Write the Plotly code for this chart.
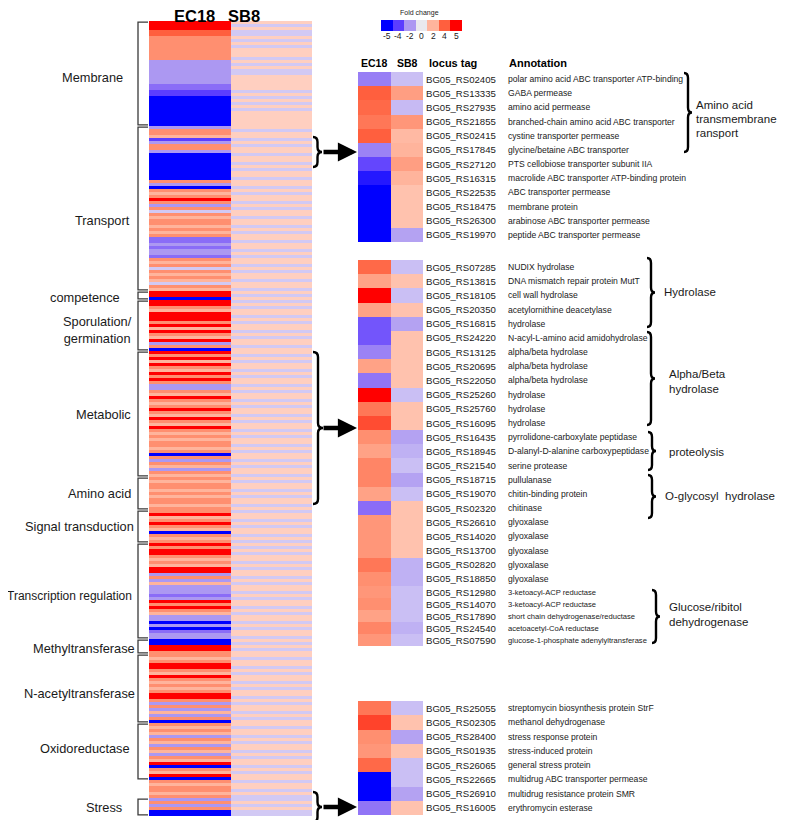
import plotly.graph_objects as go

# the page is shown with an 8 px body margin, so the figure is drawn 8 px smaller
# and every layout position below is given in screen pixels of the 787x820 window
OFF = 8
W, H = 787 - OFF, 820 - OFF

# ---------------- colour levels ----------------
level_vals = [-5, -4, -3, -2, -1, 0, 1, 2, 3, 4, 5]
level_cols = ['#0000ff', '#5b3dff', '#8a6cf7', '#ac98f2', '#d2c9f4', '#e9e9ee',
              '#ffcfc0', '#ffb49c', '#ff8f70', '#ff5f3e', '#ff0000']
legend_vals = [-5, -4, -2, 0, 2, 4, 5]
legend_text = ['-5', '-4', '-2', '0', '2', '4', '5']

# ---------------- left overview heatmap (rows per functional group) -------------
group_names = ['Membrane', 'Transport', 'competence', 'Sporulation/<br>germination', 'Metabolic',
               'Amino acid', 'Signal transduction', 'Transcription regulation', 'Methyltransferase',
               'N-acetyltransferase', 'Oxidoreductase', '', 'Stress']

membrane_ec18 = [5, 5, 5, 4, 4, 3, 3, 3, 3, 3, 3, 3, 3, -2, -2, -2, -2, -2, -2, -2, -2, -3, -3, -4, -4,
                 -5, -5, -5, -5, -5, -5, -5, -5, -5, -5]
membrane_sb8 = [1, -1, 1, -1, -1, 1, -1, 1, -1, 1, 1, 1, -1, 1, -1, 1, -1, -1, 1, 1, 1, 1, 1, -1, 1,
                -1, 1, -1, 1, -1, 1, 1, 1, 1, 1]
transport_ec18 = [-2, 3, 3, 2, -4, -2, 3, 3, -2, -5, -5, -5, -5, -5, -5, -5, -5, -5, 3, -2, -5, 3, 2,
                  3, 5, 3, -2, 3, -1, 3, 2, 3, 3, 2, 3, 2, 3, -3, -3, -2, -3, -2, -2, -3, 3, 2, 3, -1,
                  3, 2, 3, 2, -1, 3, 2]
transport_sb8 = [1, -1, 1, 1, -1, 1, -1, 1, 1, -1, 1, 1, -1, 1, -1, 1, 1, -1, 1, 1, -1, 1, -1, 1, 1,
                 -1, 1, -1, 1, 1, -1, 1, 1, -1, 1, -1, 1, 1, -1, 1, 1, -1, 1, -1, 1, 1, -1, 1, -1, 1,
                 1, -1, 1, 1, -1]
competence_ec18 = [5, 5, -5]
competence_sb8 = [1, -1, 1]
sporulation_ec18 = [5, 5, 3, 2, 5, 5, 5, 3, 5, 2, 5, 3, 2, 5, -2, 3, -5]
sporulation_sb8 = [-1, 1, -1, 1, 1, -1, 1, -1, 1, 1, -1, 1, -1, 1, 1, -1, 1]
metabolic_ec18 = [5, 3, 5, 2, 5, 3, 2, 5, 3, 5, 3, -2, -2, 3, 2, 5, 3, 2, 3, 5, 3, 2, 5, 3, 2, 5, 3,
                  2, 3, 2, 3, 3, 2, 3, -5, 3, -2, 3, 2, -2, 3, 2]
metabolic_sb8 = [1, -1, 1, -1, 1, 1, -1, 1, -1, 1, 1, -1, 1, -1, 1, 1, -1, 1, -1, 1, 1, -1, 1, -1, 1,
                 1, -1, 1, -1, 1, 1, -1, 1, -1, 1, 1, -1, 1, -1, 1, 1, -1]
amino_ec18 = [3, 2, 3, 3, 2, 3, 2, 3, 3, 2, 3]
amino_sb8 = [1, -1, 1, 1, -1, 1, -1, 1, 1, -1, 1]
signal_ec18 = [3, 5, 2, 3, 5, 3, 2, -5, 3, 2, 3]
signal_sb8 = [-1, 1, 1, -1, 1, -1, 1, 1, -1, 1, -1]
transcription_ec18 = [5, 3, 5, 5, 3, 2, 3, 2, 5, 5, -2, 3, -2, 2, -2, -2, -2, -3, -2, 5, 3, 5, 3, 2,
                      -2, -2, -5, -2, -5, -3, -2, -2]
transcription_sb8 = [1, -1, 1, -1, 1, 1, -1, 1, -1, 1, 1, -1, 1, -1, 1, 1, -1, 1, -1, 1, 1, -1, 1, -1,
                     1, 1, -1, 1, -1, 1, 1, -1]
methyl_ec18 = [-5, -5, 5, 5, 3]
methyl_sb8 = [1, -1, 1, -1, 1]
nacetyl_ec18 = [3, 2, 3, 5, 5, 3, 2, 5, 3, 2, 3, 2, 3, 5, 5, 3, -2, 3, -2, 2, -2, 3, -5]
nacetyl_sb8 = [1, -1, 1, 1, -1, 1, -1, 1, 1, -1, 1, -1, 1, 1, -1, 1, -1, 1, 1, -1, 1, -1, 1]
oxido_ec18 = [3, 2, 3, 2, -2, 3, 2, -2, 3, 2, -2, 3, 2, 5, -5, 3, 2, 5, -5]
oxido_sb8 = [1, -1, 1, 1, -1, 1, -1, 1, 1, -1, 1, -1, 1, 1, -1, 1, -1, 1, 1]
other_ec18 = [3, 2, 3, 3, 2, 3]
other_sb8 = [-1, 1, 1, -1, 1, -1]
stress_ec18 = [-2, 3, -2, 3, -5, -5]
stress_sb8 = [-1, 1, -1, 1, -1, -1]

groups_ec18 = [membrane_ec18, transport_ec18, competence_ec18, sporulation_ec18, metabolic_ec18,
               amino_ec18, signal_ec18, transcription_ec18, methyl_ec18, nacetyl_ec18, oxido_ec18,
               other_ec18, stress_ec18]
groups_sb8 = [membrane_sb8, transport_sb8, competence_sb8, sporulation_sb8, metabolic_sb8, amino_sb8,
              signal_sb8, transcription_sb8, methyl_sb8, nacetyl_sb8, oxido_sb8, other_sb8, stress_sb8]

# ---------------- right detail panels ----------------
p1_locus = ['BG05_RS02405', 'BG05_RS13335', 'BG05_RS27935', 'BG05_RS21855', 'BG05_RS02415',
            'BG05_RS17845', 'BG05_RS27120', 'BG05_RS16315', 'BG05_RS22535', 'BG05_RS18475',
            'BG05_RS26300', 'BG05_RS19970']
p1_annot = ['polar amino acid ABC transporter ATP-binding', 'GABA permease', 'amino acid permease',
            'branched-chain amino acid ABC transporter', 'cystine transporter permease',
            'glycine/betaine ABC transporter', 'PTS cellobiose transporter subunit IIA',
            'macrolide ABC transporter ATP-binding protein', 'ABC transporter permease',
            'membrane protein', 'arabinose ABC transporter permease', 'peptide ABC transporter permease']
p1_ec18 = [-2.6, 4, 3.8, 3.5, 4, -2.5, -3.8, -4.6, -5, -5, -5, -5]
p1_sb8 = [-1.2, 2.6, -1.3, 2.8, 1.8, 2, 2.6, 2, 1.5, 1.5, 1.5, -1.8]

p2_locus = ['BG05_RS07285', 'BG05_RS13815', 'BG05_RS18105', 'BG05_RS20350', 'BG05_RS16815',
            'BG05_RS24220', 'BG05_RS13125', 'BG05_RS20695', 'BG05_RS22050', 'BG05_RS25260',
            'BG05_RS25760', 'BG05_RS16095', 'BG05_RS16435', 'BG05_RS18945', 'BG05_RS21540',
            'BG05_RS18715', 'BG05_RS19070', 'BG05_RS02320', 'BG05_RS26610', 'BG05_RS14020',
            'BG05_RS13700', 'BG05_RS02820', 'BG05_RS18850', 'BG05_RS12980', 'BG05_RS14070',
            'BG05_RS17890', 'BG05_RS24540', 'BG05_RS07590']
p2_annot = ['NUDIX hydrolase', 'DNA mismatch repair protein MutT', 'cell wall hydrolase',
            'acetylornithine deacetylase', 'hydrolase', 'N-acyl-L-amino acid amidohydrolase',
            'alpha/beta hydrolase', 'alpha/beta hydrolase', 'alpha/beta hydrolase', 'hydrolase',
            'hydrolase', 'hydrolase', 'pyrrolidone-carboxylate peptidase',
            'D-alanyl-D-alanine carboxypeptidase', 'serine protease', 'pullulanase',
            'chitin-binding protein', 'chitinase', 'glyoxalase', 'glyoxalase', 'glyoxalase',
            'glyoxalase', 'glyoxalase', '3-ketoacyl-ACP reductase', '3-ketoacyl-ACP reductase',
            'short chain dehydrogenase/reductase', 'acetoacetyl-CoA reductase',
            'glucose-1-phosphate adenylyltransferase']
p2_ec18 = [3.8, 2.5, 5, 2.5, -3.5, -3.5, -2.5, 2.5, -2.8, 5, 3.5, 4.2, 3, 2.5, 3.2, 3.2, 2.5, -3,
           2.8, 2.8, 2.8, 3.5, 3, 2.8, 3, 2.5, 3.2, 2.8]
p2_sb8 = [-1.2, 1.5, -1.2, 1.5, -1.8, 1.5, 1.5, 1.5, 1.5, -1.2, 1.5, 1.5, -1.8, -1.5, -1.2, -1.8,
          -1.2, 1.5, 1.5, 1.5, 1.5, -1.5, -1.5, -1.2, -1.2, -1.2, -1.5, -1.2]

p3_locus = ['BG05_RS25055', 'BG05_RS02305', 'BG05_RS28400', 'BG05_RS01935', 'BG05_RS26065',
            'BG05_RS22665', 'BG05_RS26910', 'BG05_RS16005']
p3_annot = ['streptomycin biosynthesis protein StrF', 'methanol dehydrogenase', 'stress response protein',
            'stress-induced protein', 'general stress protein', 'multidrug ABC transporter permease',
            'multidrug resistance protein SMR', 'erythromycin esterase']
p3_ec18 = [3.5, 4.3, 3, 2.8, 3.8, -5, -5, -2.8]
p3_sb8 = [-1.2, 1.5, -1.8, 1.5, -1.2, -1.2, -1.8, 1.5]

samples = ['EC18', 'SB8']

# ---------------- helpers ----------------
def px(x):
    return (x - OFF) / W

def py(y):
    return 1 - (y - OFF) / H

cscale = [[(v + 5) / 10, c] for v, c in zip(level_vals, level_cols)]
SANS = 'Liberation Sans, Arial, sans-serif'

fig = go.Figure()
layout_axes = {}
annotations = []
shapes = []

def add_heat(idx, ec, sb, x0, x1, y0, y1):
    n = len(ec)
    xa = 'x' if idx == 1 else f'x{idx}'
    ya = 'y' if idx == 1 else f'y{idx}'
    fig.add_trace(go.Heatmap(z=[[e, s] for e, s in zip(ec, sb)], x=samples, y=list(range(n)),
                             colorscale=cscale, zmin=-5, zmax=5, showscale=False,
                             xaxis=xa, yaxis=ya, hoverinfo='skip'))
    xk = 'xaxis' if idx == 1 else f'xaxis{idx}'
    yk = 'yaxis' if idx == 1 else f'yaxis{idx}'
    layout_axes[xk] = dict(domain=[px(x0), px(x1)], anchor=ya, visible=False, fixedrange=True)
    layout_axes[yk] = dict(domain=[py(y1), py(y0)], anchor=xa, range=[n - 0.5, -0.5],
                           fixedrange=True, visible=False)
    return (y1 - y0) / n

def brace(x, y1, y2, w, lw=2.4):
    ym = (y1 + y2) / 2
    r = min(5, (y2 - y1) / 5)
    xm = x + w / 2
    xt = x + w
    p = (f"M {px(x)},{py(y1)} Q {px(xm)},{py(y1)} {px(xm)},{py(y1 + r)} "
         f"L {px(xm)},{py(ym - r)} Q {px(xm)},{py(ym)} {px(xt)},{py(ym)} "
         f"Q {px(xm)},{py(ym)} {px(xm)},{py(ym + r)} L {px(xm)},{py(y2 - r)} "
         f"Q {px(xm)},{py(y2)} {px(x)},{py(y2)}")
    shapes.append(dict(type='path', path=p, xref='paper', yref='paper',
                       line=dict(color='black', width=lw)))

def text(x, y, s, size, fam=SANS, anchor='left', bold=False, color='#1a1a1a', pad=1):
    if bold:
        s = f'<b>{s}</b>'
    annotations.append(dict(x=px(x), y=py(y), xref='paper', yref='paper', text=s, showarrow=False,
                            xanchor=anchor, yanchor='middle', borderpad=pad,
                            font=dict(family=fam, size=size, color=color)))

def arrow(x0, x1, y):
    annotations.append(dict(x=px(x1), y=py(y), ax=-(x1 - x0), ay=0, xref='paper', yref='paper',
                            text='', showarrow=True, arrowhead=2,
                            arrowsize=0.85, arrowwidth=4.5, arrowcolor='black'))

# ---------------- left heatmap ----------------
left_ec18 = [v for g in groups_ec18 for v in g]
left_sb8 = [v for g in groups_sb8 for v in g]
LT, LB = 21, 816
rowh = add_heat(1, left_ec18, left_sb8, 149, 312, LT, LB)

label_x = [125, 132, 122, 134, 133, 133, 136, 134, 137, 137, 132, 0, 124]
label_dy = [4, 12, 2, 4, 0, 0, 0, 5, 2, 5, -3, 0, 0]
label_sz = [12.8, 12.8, 12.8, 12.8, 12.8, 12.8, 12.8, 12.0, 12.8, 12.8, 12.8, 12.8, 12.8]
start = 0
for name, g, lx, dy, sz in zip(group_names, groups_ec18, label_x, label_dy, label_sz):
    a, b = start, start + len(g)
    start = b
    if not name:
        continue
    yt = LT + a * rowh + 1.2
    yb = LT + b * rowh - 1.2
    shapes.append(dict(type='path', xref='paper', yref='paper',
                       path=f"M {px(148)},{py(yt)} L {px(138)},{py(yt)} L {px(138)},{py(yb)} L {px(148)},{py(yb)}",
                       line=dict(color='#3a3a3a', width=1.3)))
    text(lx, (yt + yb) / 2 + dy, name, sz, anchor='right')

text(194, 16, 'EC18', 16.5, anchor='center', bold=True, color='black', pad=0)
text(244, 16, 'SB8', 16.5, anchor='center', bold=True, color='black', pad=0)

# ---------------- right panels ----------------
SPLIT = 23
h1 = add_heat(2, p1_ec18, p1_sb8, 358, 423, 72, 242)
h2a = add_heat(3, p2_ec18[:SPLIT], p2_sb8[:SPLIT], 358, 423, 260, 586)
h2b = add_heat(4, p2_ec18[SPLIT:], p2_sb8[SPLIT:], 358, 423, 586, 646)
h3 = add_heat(5, p3_ec18, p3_sb8, 358, 423, 701, 815)

blocks = [(p1_locus, p1_annot, 72, h1, 8.6),
          (p2_locus[:SPLIT], p2_annot[:SPLIT], 260, h2a, 8.6),
          (p2_locus[SPLIT:], p2_annot[SPLIT:], 586, h2b, 7.6),
          (p3_locus, p3_annot, 701, h3, 8.6)]
for locs, annots, top, h, asz in blocks:
    for i, (lt, s) in enumerate(zip(locs, annots)):
        yc = top + (i + 0.5) * h
        text(424, yc, lt, 9.6)
        text(506, yc, s, asz)

text(374, 63, 'EC18', 10.5, anchor='center', bold=True, color='black')
text(407, 63, 'SB8', 10.5, anchor='center', bold=True, color='black')
text(427, 63, 'locus tag', 11, bold=True, color='black')
text(507, 63, 'Annotation', 11, bold=True, color='black')

# colour key
KX0, KX1 = 381, 462
fig.add_trace(go.Heatmap(z=[legend_vals], x=list(range(len(legend_vals))), y=[0], colorscale=cscale,
                         zmin=-5, zmax=5, showscale=False, xaxis='x6', yaxis='y6', hoverinfo='skip'))
layout_axes['xaxis6'] = dict(domain=[px(KX0), px(KX1)], anchor='y6', visible=False, fixedrange=True,
                             range=[-0.5, len(legend_vals) - 0.5])
layout_axes['yaxis6'] = dict(domain=[py(31), py(20)], anchor='x6', visible=False, fixedrange=True)
kw = (KX1 - KX0) / len(legend_vals)
for i, t in enumerate(legend_text):
    text(KX0 + (i + 0.5) * kw, 36, t, 8.5, anchor='center')
text(419, 13, 'Fold change', 7, anchor='center')

# braces and arrows on the left side
brace(313, 137, 167, 9)
brace(313, 352, 504, 10)
brace(313, 792, 822, 9)
arrow(322, 357, 152)
arrow(322, 357, 428)
arrow(322, 357, 807)

# right-side category braces
RL = 11.5
brace(684, 73, 152, 8)
text(694, 105, 'Amino acid', RL)
text(694, 119, 'transmembrane t', RL)
text(694, 133, 'ransport', RL)
brace(647, 258, 327, 8)
text(662, 292, 'Hydrolase', RL)
brace(647, 332, 425, 8)
text(667, 374, 'Alpha/Beta', RL)
text(667, 389, 'hydrolase', RL)
brace(648, 432, 470, 8)
text(667, 452, 'proteolysis', RL)
brace(648, 475, 518, 8)
text(663, 496, 'O-glycosyl  hydrolase', RL)
brace(652, 590, 643, 8)
text(667, 607, 'Glucose/ribitol', RL)
text(667, 622, 'dehydrogenase', RL)

fig.update_layout(width=W, height=H, margin=dict(l=0, r=0, t=0, b=0), paper_bgcolor='white',
                  plot_bgcolor='white', showlegend=False, annotations=annotations, shapes=shapes,
                  **layout_axes)
fig.write_html('out.html')
